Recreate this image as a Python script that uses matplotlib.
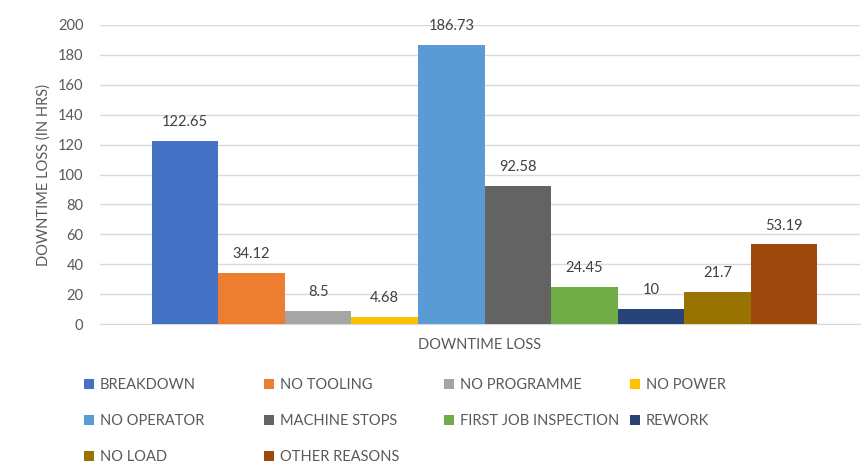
import matplotlib
matplotlib.use("Agg")
import matplotlib.pyplot as plt
from matplotlib.patches import Patch

plt.rcParams['font.family'] = ['Lato', 'DejaVu Sans']

category = "DOWNTIME LOSS"
series = ["BREAKDOWN", "NO TOOLING", "NO PROGRAMME", "NO POWER", "NO OPERATOR",
          "MACHINE STOPS", "FIRST JOB INSPECTION", "REWORK", "NO LOAD", "OTHER REASONS"]
values = [122.65, 34.12, 8.5, 4.68, 186.73, 92.58, 24.45, 10, 21.7, 53.19]
labels = ["122.65", "34.12", "8.5", "4.68", "186.73", "92.58", "24.45", "10", "21.7", "53.19"]
colors = ["#4472C4", "#ED7D31", "#A5A5A5", "#FFC000", "#5B9BD5",
          "#636363", "#70AD47", "#264478", "#997300", "#9E480E"]
yticks = [0, 20, 40, 60, 80, 100, 120, 140, 160, 180, 200]

txt = "#595959"
fig = plt.figure(figsize=(8.65, 4.66), dpi=100)
ax = fig.add_axes([100/865, 1-324/466, 760/865, 299/466])

n = len(series)
w = 0.0876
for i, (s, v, c, lab) in enumerate(zip(series, values, colors, labels)):
    x = (i - (n - 1) / 2) * w + 0.006
    ax.bar(x, v, width=w, color=c, zorder=3, label=s)
    ax.text(x, v + 8, lab, ha='center', va='bottom', fontsize=10.5, color="#404040")

ax.set_xlim(-0.5, 0.5)
ax.set_ylim(0, 200)
ax.set_yticks(yticks)
ax.set_xticks([0])
ax.set_xticklabels([category])
ax.tick_params(axis='both', length=0, labelsize=10.5, labelcolor=txt)
ax.tick_params(axis='y', pad=12)
ax.tick_params(axis='x', pad=10)
ax.grid(axis='y', color="#D9D9D9", linewidth=1, zorder=0)
for sp in ['top', 'right', 'left']:
    ax.spines[sp].set_visible(False)
ax.spines['bottom'].set_color("#D9D9D9")
ax.set_ylabel("DOWNTIME LOSS (IN HRS)", fontsize=10.5, color=txt, labelpad=5)

# legend: 4 fixed columns, 3 rows
colx = [84, 264, 444, 630]
for col in range(4):
    idx = [r * 4 + col for r in range(3) if r * 4 + col < n]
    handles = [Patch(facecolor=colors[k]) for k in idx]
    labs = [series[k] for k in idx]
    fig.legend(handles, labs, loc='upper left',
               bbox_to_anchor=(colx[col] / 865, 1 - 378 / 466),
               frameon=False, fontsize=10.5, labelcolor=txt,
               handlelength=0.7, handleheight=0.7, handletextpad=0.4,
               labelspacing=1.5, borderpad=0, borderaxespad=0)

fig.savefig("out.png", dpi=100)
